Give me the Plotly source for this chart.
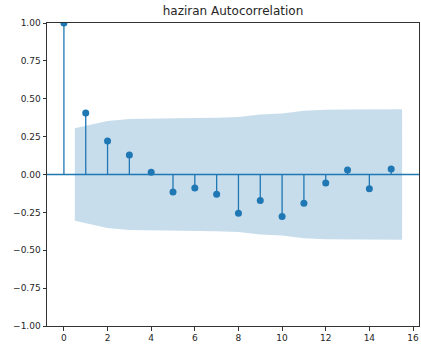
import plotly.graph_objects as go

# Autocorrelation by lag
lags = list(range(16))
acf_values = [1.0, 0.406, 0.221, 0.129, 0.015, -0.116, -0.089, -0.131,
              -0.256, -0.171, -0.278, -0.190, -0.056, 0.030, -0.094, 0.036]

# 95% confidence band half-width (Bartlett), lags 1..15; ends stretched by half a lag
band_lags = [0.5, 2, 3, 4, 5, 6, 7, 8, 9, 10, 11, 12, 13, 14, 15.5]
band_half = [0.306, 0.353, 0.366, 0.370, 0.370, 0.373, 0.375, 0.380,
             0.396, 0.402, 0.420, 0.428, 0.429, 0.429, 0.431]

blue = "#1f77b4"

fig = go.Figure()

# confidence band polygon
band_x = band_lags + band_lags[::-1]
band_y = band_half + [-v for v in band_half[::-1]]
fig.add_trace(go.Scatter(
    x=band_x, y=band_y, mode="lines", fill="toself",
    fillcolor="rgba(31,119,180,0.25)", line=dict(width=0),
    hoverinfo="skip", showlegend=False))

# stems
stem_x, stem_y = [], []
for lag, v in zip(lags, acf_values):
    stem_x += [lag, lag, None]
    stem_y += [0, v, None]
fig.add_trace(go.Scatter(
    x=stem_x, y=stem_y, mode="lines",
    line=dict(color=blue, width=1.3), showlegend=False, hoverinfo="skip"))

# zero line across the axes
fig.add_shape(type="line", xref="paper", yref="y", x0=0, x1=1, y0=0, y1=0,
              line=dict(color=blue, width=1.3), layer="above")

# markers
fig.add_trace(go.Scatter(
    x=lags, y=acf_values, mode="markers",
    marker=dict(color=blue, size=7, line=dict(width=0)), showlegend=False))

axis_common = dict(
    showline=True, linecolor="#333333", linewidth=1, mirror=True,
    ticks="outside", ticklen=3.5, tickwidth=0.8, tickcolor="#333333",
    showgrid=False, zeroline=False,
    tickfont=dict(family="DejaVu Sans", size=9, color="#262626"),
)

fig.update_layout(
    width=421, height=352,
    margin=dict(l=47, r=2, t=23, b=26),
    paper_bgcolor="white", plot_bgcolor="white",
    title=dict(text="haziran Autocorrelation", x=(47 + 419) / 2 / 421, xanchor="center",
               y=1 - 11 / 352, yanchor="middle",
               font=dict(family="DejaVu Sans", size=12, color="#262626")),
    xaxis=dict(range=[-0.775, 16.275], tickmode="array",
               tickvals=list(range(0, 17, 2)), ticktext=[str(v) for v in range(0, 17, 2)],
               **axis_common),
    yaxis=dict(range=[-1, 1], tickmode="array",
               tickvals=[-1, -0.75, -0.5, -0.25, 0, 0.25, 0.5, 0.75, 1],
               tickformat=".2f", **axis_common),
)

fig.write_html("out.html")
